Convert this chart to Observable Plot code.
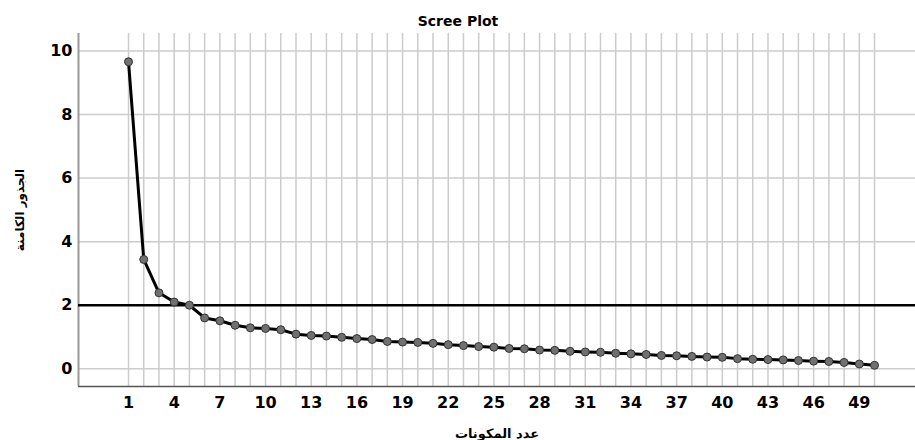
<!DOCTYPE html>
<html><head><meta charset="utf-8">
<script src="https://cdn.jsdelivr.net/npm/d3@7"></script>
<script src="https://cdn.jsdelivr.net/npm/@observablehq/plot@0.6"></script>
<style>html,body{margin:0;padding:0;background:#fff} svg{display:block}</style>
</head><body><div id="chart"></div>
<script>
const components = [1,2,3,4,5,6,7,8,9,10,11,12,13,14,15,16,17,18,19,20,21,22,23,24,25,26,27,28,29,30,31,32,33,34,35,36,37,38,39,40,41,42,43,44,45,46,47,48,49,50];
const eigenvalues = [9.66,3.44,2.39,2.10,2.00,1.60,1.51,1.37,1.29,1.27,1.23,1.09,1.05,1.03,0.99,0.95,0.92,0.86,0.84,0.83,0.80,0.76,0.73,0.70,0.68,0.64,0.63,0.59,0.58,0.55,0.53,0.52,0.49,0.47,0.45,0.42,0.41,0.39,0.37,0.36,0.32,0.30,0.29,0.28,0.26,0.24,0.23,0.20,0.15,0.11];
const xTicks = [1,4,7,10,13,16,19,22,25,28,31,34,37,40,43,46,49];
const yTicks = [0,2,4,6,8,10];
const referenceValue = 2;
const xDomain = [-2.285, 52.69];
const yDomain = [-0.557, 10.55];
const titleText = "Scree Plot";
const xLabel = "عدد المكونات";
const yLabel = "الجذور الكامنة";

const data = components.map((c, i) => ({component: c, eigenvalue: eigenvalues[i]}));

const chart = Plot.plot({
  width: 915, height: 440,
  marginLeft: 78, marginRight: 0, marginTop: 33, marginBottom: 54,
  style: {fontFamily: "DejaVu Sans, sans-serif", background: "#fff", color: "#000"},
  x: {domain: xDomain},
  y: {domain: yDomain},
  marks: [
    Plot.gridX(components, {stroke: "#cccccc", strokeOpacity: 1, strokeWidth: 1.5}),
    Plot.gridY(yTicks, {stroke: "#cccccc", strokeOpacity: 1, strokeWidth: 1.5}),
    Plot.ruleX([xDomain[0]], {stroke: "#999", strokeWidth: 2}),
    Plot.ruleY([yDomain[0]], {stroke: "#555", strokeWidth: 1.5}),
    Plot.ruleY([referenceValue], {stroke: "#000", strokeWidth: 2.5}),
    Plot.line(data, {x: "component", y: "eigenvalue", stroke: "#000", strokeWidth: 3}),
    Plot.dot(data, {x: "component", y: "eigenvalue", r: 4, fill: "#707070", stroke: "#333", strokeWidth: 1}),
    Plot.axisX({ticks: xTicks, tickSize: 0, tickPadding: 10, fontSize: 16, fontWeight: "bold", label: null}),
    Plot.axisY({ticks: yTicks, tickSize: 0, tickPadding: 6, fontSize: 16, fontWeight: "bold", label: null}),
    Plot.text([titleText], {text: d => d, frameAnchor: "top", lineAnchor: "middle", textAnchor: "middle", dx: -39, dy: -12, fontSize: 14, fontWeight: "bold", fill: "#000"}),
    Plot.text([xLabel], {text: d => d, frameAnchor: "bottom", lineAnchor: "middle", textAnchor: "middle", dy: 47, fontSize: 13, fontWeight: "bold", fill: "#000"}),
    Plot.text([yLabel], {text: d => d, frameAnchor: "left", lineAnchor: "middle", textAnchor: "middle", dx: -58, rotate: -90, fontSize: 12, fontWeight: "bold", fill: "#000"})
  ]
});
document.getElementById("chart").appendChild(chart);
</script>
</body></html>
